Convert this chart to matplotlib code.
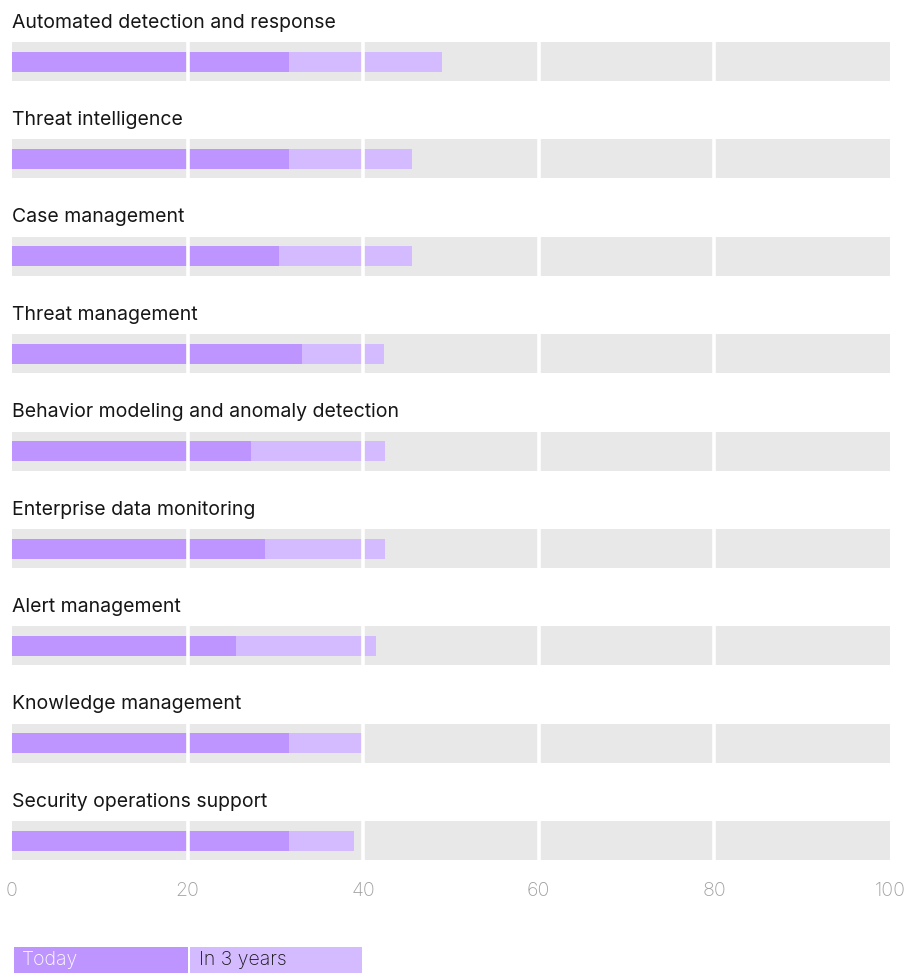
import matplotlib.pyplot as plt
import numpy as np

# datos
categorias = ['Automated detection and response', 'Threat intelligence', 'Case management',
              'Threat management', 'Behavior modeling and anomaly detection',
              'Enterprise data monitoring', 'Alert management', 'Knowledge management',
              'Security operations support']
hoy = [31.5, 31.5, 30.4, 33.0, 27.2, 28.8, 25.5, 31.5, 31.5]
en_3_anios = [49.0, 45.6, 45.6, 42.4, 42.5, 42.5, 41.5, 39.9, 39.0]
ticks = [0, 20, 40, 60, 80, 100]
leyenda = ['Today', 'In 3 years']

c_hoy = '#be95ff'
c_3 = '#d4bbff'
c_fondo = '#e8e8e8'

plt.rcParams['font.family'] = ['Inter', 'DejaVu Sans']

W, H = 917, 973
fig = plt.figure(figsize=(W/100, H/100), dpi=100)

paso = 97.4
h_fondo = 39/paso
ax = fig.add_axes([12/W, 1-860/H, 878/W, 860/H])
y = np.arange(len(categorias))
ax.barh(y, 100, height=h_fondo, color=c_fondo, zorder=1)
ax.barh(y, en_3_anios, height=20/paso, color=c_3, zorder=2)
ax.barh(y, hoy, height=20/paso, color=c_hoy, zorder=3)
# lineas blancas solo dentro de cada franja
for xg in ticks[1:-1]:
    for yi in y:
        ax.vlines(xg, yi-h_fondo/2, yi+h_fondo/2, color='white', lw=2.6, zorder=5)
for i, cat in enumerate(categorias):
    ax.text(0, i-0.4, cat, fontsize=14, color='#161616', va='center', ha='left')

ax.set_xlim(0, 100)
ax.set_ylim((860-61.5)/paso, -61.5/paso)
ax.set_xticks(ticks)
ax.set_xticklabels([str(t) for t in ticks], fontsize=14, color='#a0a0a0', fontweight='light')
ax.tick_params(axis='x', length=0, pad=16)
ax.set_yticks([])
for s in ax.spines.values():
    s.set_visible(False)

# leyenda como bloques
axl = fig.add_axes([12/W, 0, 878/W, 26/H])
axl.barh(0, 19.8, left=0.2, height=1, color=c_hoy)
axl.barh(0, 19.6, left=20.3, height=1, color=c_3)
axl.text(1.1, 0, leyenda[0], color='white', fontsize=14, va='center', fontweight='light')
axl.text(21.3, 0, leyenda[1], color='#161616', fontsize=14, va='center', fontweight='light')
axl.set_xlim(0, 100)
axl.set_ylim(-0.5, 0.5)
axl.axis('off')

fig.savefig('out.png', dpi=100)
